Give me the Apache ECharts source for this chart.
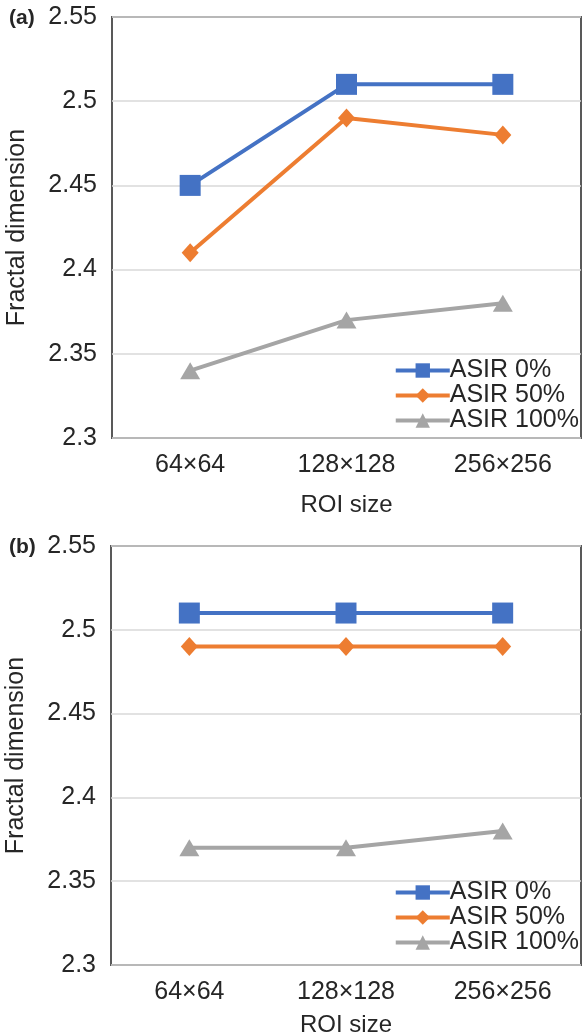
<!DOCTYPE html>
<html><head><meta charset="utf-8">
<script src="https://cdn.jsdelivr.net/npm/echarts@6/dist/echarts.min.js"></script>
<style>html,body{margin:0;padding:0;background:#fff}#c{width:582px;height:1036px}</style>
</head><body><div id="c"></div>
<script>
const categories = ['64×64', '128×128', '256×256'];
const seriesNames = ['ASIR 0%', 'ASIR 50%', 'ASIR 100%'];
const panelA_0 = [2.45, 2.51, 2.51];
const panelA_50 = [2.41, 2.49, 2.48];
const panelA_100 = [2.34, 2.37, 2.38];
const panelB_0 = [2.51, 2.51, 2.51];
const panelB_50 = [2.49, 2.49, 2.49];
const panelB_100 = [2.37, 2.37, 2.38];
const yTicks = [2.3, 2.35, 2.4, 2.45, 2.5, 2.55];

const colors = ['#4472C4', '#ED7D31', '#A5A5A5'];
const symbols = ['rect', 'diamond', 'triangle'];
const symSizes = [[21,21], [17,19], [20,17]];
const font = 'Liberation Sans, Arial, sans-serif';

const grids = [
  {left: 112, top: 17, width: 469, height: 421, show: true, borderColor: '#595959', borderWidth: 2, backgroundColor: '#fff', containLabel:false, outerBoundsMode:'none'},
  {left: 111, top: 546, width: 470, height: 419, show: true, borderColor: '#595959', borderWidth: 2, backgroundColor: '#fff', containLabel:false, outerBoundsMode:'none'}
];
function xAxis(i){ return {type:'category', gridIndex:i, data:categories, name:'ROI size', nameLocation:'middle', nameGap: i===0?55:48,
  nameTextStyle:{fontSize:24, color:'#262626', fontFamily:font},
  axisLine:{show:false}, axisTick:{show:false},
  axisLabel:{fontSize:25, color:'#262626', fontFamily:font, margin:15}}; }
function yAxis(i){ return {type:'value', gridIndex:i, min:2.3, max:2.55, interval:0.05, name:'Fractal dimension', nameLocation:'middle', nameGap:82,
  nameTextStyle:{fontSize:25, color:'#262626', fontFamily:font},
  axisLine:{show:false}, axisTick:{show:false},
  splitLine:{lineStyle:{color:'#D9D9D9', width:1.5}},
  axisLabel:{fontSize:25, color:'#262626', fontFamily:font, margin:15, formatter: v => {const t = yTicks.find(x=>Math.abs(x-v)<1e-9); return t===undefined? '' : String(+t.toFixed(2));}}}; }

const dataSets = [[panelA_0, panelA_50, panelA_100], [panelB_0, panelB_50, panelB_100]];
const series = [];
dataSets.forEach((set, g) => set.forEach((d, k) => series.push({
  type:'line', name:seriesNames[k], xAxisIndex:g, yAxisIndex:g, data:d,
  symbol:symbols[k], symbolSize:symSizes[k], showAllSymbol:true,
  lineStyle:{color:colors[k], width:4}, itemStyle:{color:colors[k]}, z: 5-k
})));

function legend(top){ return {data:seriesNames, orient:'vertical', right:3, top:top, itemGap:0, itemWidth:54, itemHeight:18,
  lineStyle:{width:4}, itemStyle:{borderWidth:0},
  textStyle:{fontSize:25, lineHeight:24.5, color:'#262626', fontFamily:font, padding:[0,0,0,-5]}, padding:0, selectedMode:false}; }

const chart = echarts.init(document.getElementById('c'));
chart.setOption({
  animation:false,
  color: colors,
  grid: grids,
  xAxis: [xAxis(0), xAxis(1)],
  yAxis: [yAxis(0), yAxis(1)],
  legend: [legend(358), legend(880)],
  series: series,
  graphic: [
    {type:'text', left:9, top:8, style:{text:'(a)', fontSize:21, fontWeight:'bold', fill:'#262626', fontFamily:font}},
    {type:'text', left:9, top:537, style:{text:'(b)', fontSize:21, fontWeight:'bold', fill:'#262626', fontFamily:font}}
  ]
});
</script></body></html>
